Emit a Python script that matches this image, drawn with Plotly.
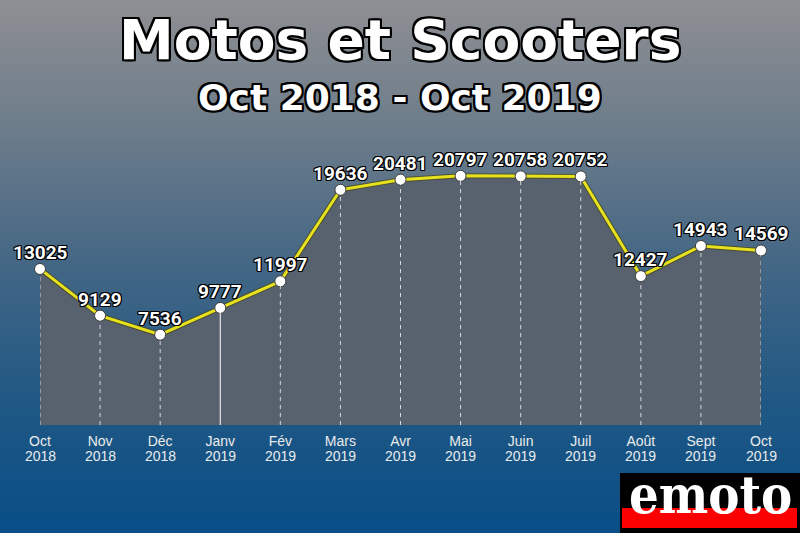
import plotly.graph_objects as go

months = ["Oct", "Nov", "Déc", "Janv", "Fév", "Mars", "Avr", "Mai", "Juin", "Juil", "Août", "Sept", "Oct"]
years = ["2018", "2018", "2018", "2019", "2019", "2019", "2019", "2019", "2019", "2019", "2019", "2019", "2019"]
values = [13025, 9129, 7536, 9777, 11997, 19636, 20481, 20797, 20758, 20752, 12427, 14943, 14569]

W, H = 800, 533
L, R, T, B = 40, 39, 100, 108
PW = W - L - R
PH = H - T - B


def px(x):
    return (x - L) / PW


def py(y):
    return (H - B - y) / PH


xs = list(range(len(values)))

fig = go.Figure()

# background gradient bands
stops = [(0, (143, 143, 147)), (130, (108, 124, 138)), (270, (66, 102, 133)), (400, (32, 88, 132)), (533, (8, 78, 135))]


def col_at(y):
    for (y0, c0), (y1, c1) in zip(stops[:-1], stops[1:]):
        if y0 <= y <= y1:
            t = (y - y0) / (y1 - y0)
            return tuple(round(a + (b - a) * t) for a, b in zip(c0, c1))
    return stops[-1][1]


shapes = []
step = 4
for y in range(0, H, step):
    c = col_at(y + step / 2)
    shapes.append(dict(type="rect", xref="paper", yref="paper", x0=px(-1), x1=px(W + 1),
                       y0=py(y + step + 0.5), y1=py(y - 0.5 if y == 0 else y), fillcolor=f"rgb{c}",
                       line=dict(width=0), layer="below"))

# fill area
fig.add_trace(go.Scatter(x=xs, y=values, mode="lines", fill="tozeroy", fillcolor="rgb(88,97,110)",
                         line=dict(width=0), hoverinfo="skip", showlegend=False))

# vertical drop lines
for i, v in zip(xs, values):
    solid = months[i] == "Janv"
    shapes.append(dict(type="line", xref="x", yref="y", x0=i, x1=i, y0=0, y1=v,
                       line=dict(color="white" if solid else "rgba(255,255,255,0.75)", width=1,
                                 dash="solid" if solid else "4px,4px"), layer="above"))

# line outline + yellow line with markers
fig.add_trace(go.Scatter(x=xs, y=values, mode="lines", line=dict(color="rgba(70,70,20,0.7)", width=5),
                         hoverinfo="skip", showlegend=False))
fig.add_trace(go.Scatter(x=xs, y=values, mode="lines+markers", line=dict(color="rgb(232,226,30)", width=3),
                         marker=dict(size=11, color="white", line=dict(color="rgb(60,60,60)", width=1)),
                         cliponaxis=False, showlegend=False, hoverinfo="skip"))

# logo
shapes.append(dict(type="rect", xref="paper", yref="paper", x0=px(620), x1=px(801), y0=py(534), y1=py(473),
                   fillcolor="black", line=dict(width=0), layer="above"))
shapes.append(dict(type="rect", xref="paper", yref="paper", x0=px(622), x1=px(797), y0=py(528), y1=py(508),
                   fillcolor="rgb(250,0,0)", line=dict(width=0), layer="above"))

outline = "-2px -2px 0 #000, 2px -2px 0 #000, -2px 2px 0 #000, 2px 2px 0 #000, 0 2px 0 #000, 0 -2px 0 #000, 2px 0 0 #000, -2px 0 0 #000"
thin = "-1px -1px 0 #000, 1px -1px 0 #000, -1px 1px 0 #000, 1px 1px 0 #000, 0 1px 0 #000, 0 -1px 0 #000, 1px 0 0 #000, -1px 0 0 #000"
cx = 0.5 * (px(0) + px(W))
annotations = [
    dict(text="Motos et Scooters", x=cx, xref="paper", y=py(40), yref="paper", xanchor="center",
         yanchor="middle", showarrow=False,
         font=dict(family="DejaVu Sans", size=55, color="white", weight="bold", shadow=outline)),
    dict(text="Oct 2018 - Oct 2019", x=cx, xref="paper", y=py(97), yref="paper",
         xanchor="center", yanchor="middle", showarrow=False,
         font=dict(family="DejaVu Sans", size=36, color="white", weight="bold", shadow=outline)),
    dict(text="emoto", x=px(710), xref="paper", y=py(494), yref="paper", xanchor="center", yanchor="middle",
         showarrow=False,
         font=dict(family="DejaVu Serif Condensed", size=52, color="white", weight="bold")),
]

# value labels
for i, v in zip(xs, values):
    annotations.append(dict(text=str(v), x=i, xref="x", y=v, yref="y", xanchor="center", yanchor="bottom",
                            yshift=3, showarrow=False,
                            font=dict(family="Roboto", size=19, color="white", weight="bold", shadow=thin)))

# year line of the tick labels
for i, yr in zip(xs, years):
    annotations.append(dict(text=yr, x=i, xref="x", y=py(456), yref="paper", xanchor="center", yanchor="middle",
                            showarrow=False, font=dict(family="Liberation Sans", size=14, color="rgb(235,235,235)")))

fig.update_layout(
    width=W, height=H, margin=dict(l=L, r=R, t=T, b=B, pad=0),
    paper_bgcolor="rgba(0,0,0,0)", plot_bgcolor="rgba(0,0,0,0)",
    shapes=shapes, annotations=annotations, showlegend=False, hovermode=False,
    xaxis=dict(range=[0, len(values) - 1], tickvals=xs, ticktext=months, showgrid=False, zeroline=False,
               showline=False, ticks="", ticklabelstandoff=6,
               tickfont=dict(family="Liberation Sans", size=14, color="rgb(235,235,235)"),
               fixedrange=True),
    yaxis=dict(range=[0, 27130], showgrid=False, zeroline=False, showticklabels=False, showline=False,
               ticks="", fixedrange=True),
)

fig.write_html("out.html", config={"displayModeBar": False},
               post_script="document.body.style.margin='0';document.body.style.overflow='hidden';")
